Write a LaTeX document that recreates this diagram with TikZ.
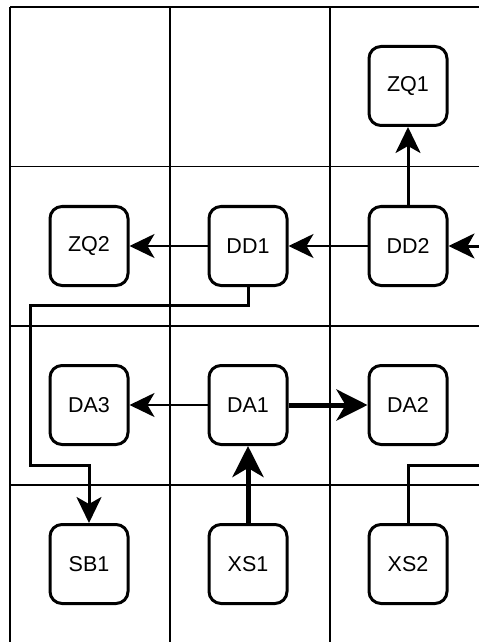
\documentclass[tikz,border=0pt]{standalone}
\usepackage{fontspec}
\setmainfont{Liberation Sans}
\usetikzlibrary{arrows.meta}
\begin{document}
\begin{tikzpicture}[x=1bp,y=-1bp,
  gridline/.style={line width=1.5bp,black},
  box/.style={draw,line width=3bp,rounded corners=12bp,minimum width=78bp,minimum height=79bp,inner sep=0pt,font=\fontsize{21.5bp}{25bp}\selectfont,fill=white},
  thinconn/.style={line width=2.4bp,-{Stealth[length=25bp,width=24bp,inset=7bp]}},
  medconn/.style={line width=3bp,-{Stealth[length=26bp,width=25bp,inset=7bp]}},
  medline/.style={line width=3bp},
  thickconn/.style={line width=5bp,-{Stealth[length=31bp,width=31bp,inset=9bp]}}]
\clip (0,0) rectangle (479,642);
\fill[white] (0,0) rectangle (479,642);
% grid
\foreach \y in {7,166.5,326,485} \draw[gridline] (10,\y) -- (500,\y);
\foreach \x in {10,170,330} \draw[gridline] (\x,7) -- (\x,660);
% nodes
\node[box] (ZQ1) at (408,86) {ZQ1};
\node[box] (ZQ2) at (89,246) {ZQ2};
\node[box] (DD1) at (248,246) {DD1};
\node[box] (DD2) at (408,246) {DD2};
\node[box] (DA3) at (89,405) {DA3};
\node[box] (DA1) at (248,405) {DA1};
\node[box] (DA2) at (408,405) {DA2};
\node[box] (SB1) at (89,564) {SB1};
\node[box] (XS1) at (248,564) {XS1};
\node[box] (XS2) at (408,564) {XS2};
% helper coordinates
\coordinate (rin) at (520,246);
\coordinate (rout) at (520,465);
\coordinate (j1) at (30,305.5);
\coordinate (j2) at (30,465);
% connectors
\draw[medconn] (DD2) -- (ZQ1);
\draw[medconn] (rin) -- (DD2);
\draw[thinconn] (DD2) -- (DD1);
\draw[thinconn] (DD1) -- (ZQ2);
\draw[medconn] (DD1.south) -- (DD1.south |- j1) -- (j1) -- (j2) -- (SB1.north |- j2) -- (SB1.north);
\draw[thinconn] (DA1) -- (DA3);
\draw[thickconn] (DA1) -- (DA2);
\draw[thickconn] (XS1) -- (DA1);
\draw[medline] (XS2.north) -- (XS2.north |- rout) -- (rout);
\end{tikzpicture}
\end{document}
